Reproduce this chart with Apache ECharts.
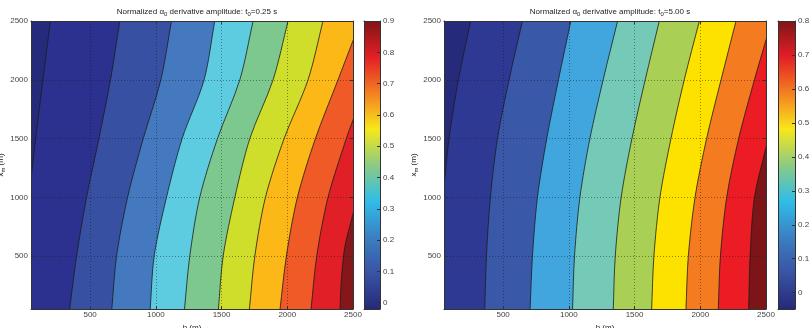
<!DOCTYPE html>
<html>
<head>
<meta charset="utf-8">
<script src="https://cdn.jsdelivr.net/npm/echarts@6/dist/echarts.min.js"></script>
<style>
html, body { margin: 0; padding: 0; background: #fff; }
#main { width: 812px; height: 328px; }
</style>
</head>
<body>
<div id="main"></div>
<script>
/** 坐标范围 (m) */
const hRange = [50, 2500];
const xmRange = [50, 2500];

/** 等值线层级 */
const levelsA = [0, 0.1, 0.2, 0.3, 0.4, 0.5, 0.6, 0.7, 0.8, 0.9];
const levelsB = [0, 0.1, 0.2, 0.3, 0.4, 0.5, 0.6, 0.7, 0.8];

/** 色标范围 */
const cbarA = [-0.02, 0.9];
const cbarB = [-0.048, 0.8];

/** t0=0.25 s : 每条等值线上的点 [h, x_m] */
const linesA = [
  [[197, 2500], [141, 2000], [85, 1500], [50, 1150]],
  [[726, 2500], [655, 2000], [567, 1500], [473, 1000], [397, 500], [344, 50]],
  [[1119, 2500], [1038, 2000], [904, 1500], [785, 1000], [701, 500], [665, 50]],
  [[1448, 2500], [1367, 2000], [1200, 1500], [1081, 1000], [987, 500], [957, 50]],
  [[1740, 2500], [1639, 2000], [1469, 1500], [1334, 1000], [1258, 500], [1218, 50]],
  [[2006, 2500], [1892, 2000], [1715, 1500], [1601, 1000], [1512, 500], [1476, 50]],
  [[2272, 2500], [2158, 2000], [1976, 1500], [1834, 1000], [1753, 500], [1712, 50]],
  [[2500, 2333], [2386, 2000], [2214, 1500], [2077, 1000], [1993, 500], [1945, 50]],
  [[2500, 1658], [2449, 1500], [2310, 1000], [2224, 500], [2181, 50]],
  [[2500, 858], [2437, 574], [2411, 291], [2401, 50]]
];

/** t0=5.00 s */
const linesB = [
  [[253, 2500], [160, 2000], [88, 1500], [50, 1085]],
  [[647, 2500], [545, 2000], [457, 1500], [403, 1000], [373, 500], [360, 50]],
  [[1015, 2500], [921, 2000], [832, 1500], [761, 1000], [723, 500], [705, 50]],
  [[1371, 2500], [1261, 2000], [1160, 1500], [1084, 1000], [1043, 500], [1028, 50]],
  [[1688, 2500], [1581, 2000], [1480, 1500], [1398, 1000], [1353, 500], [1338, 50]],
  [[1993, 2500], [1878, 2000], [1777, 1500], [1693, 1000], [1647, 500], [1630, 50]],
  [[2272, 2500], [2158, 2000], [2048, 1500], [1960, 1000], [1909, 500], [1891, 50]],
  [[2500, 2338], [2412, 2000], [2292, 1500], [2201, 1000], [2153, 500], [2137, 50]],
  [[2500, 1425], [2412, 1000], [2379, 500], [2368, 50]]
];

/** 颜色 (第一个是最低层背景) */
const colorsA = ['#262a7a', '#2c308e', '#3750a2', '#4479c0', '#5dcbe0', '#7dc88f',
  '#cfdd2b', '#fcb816', '#ef5a27', '#e11f26', '#85171a'];
const colorsB = ['#262a7a', '#2e3994', '#3a58a8', '#41a6de', '#74cab6', '#a9d054',
  '#fde200', '#f47b20', '#ec1c24', '#7b1517'];
const jetStops = [
  { offset: 0, color: '#262978' },
  { offset: 0.125, color: '#3953a4' },
  { offset: 0.25, color: '#3b80c2' },
  { offset: 0.375, color: '#30bde9' },
  { offset: 0.5, color: '#8dcb82' },
  { offset: 0.625, color: '#f8e71a' },
  { offset: 0.75, color: '#f47f21' },
  { offset: 0.875, color: '#e31f26' },
  { offset: 1, color: '#7f1517' }
];

const FONT = '"Liberation Sans", Arial, Helvetica, sans-serif';
const subRich = { sub: { fontSize: 6, fontFamily: FONT, color: '#222', padding: [5, 0, 0, 0] } };

let myChart = echarts.init(document.getElementById('main'), null, { renderer: 'canvas' });

// 等值线区域: 把每条线往图外延伸, 再绕到右边闭合, 靠 clip 裁掉
function contourItem(lines, colors) {
  const E = 600, F = 3000;
  return function (params, api) {
    const i = params.dataIndex;
    const pts = lines[i];
    const n = pts.length;
    const dir = (a, b) => {
      const dx = a[0] - b[0], dy = a[1] - b[1];
      const len = Math.sqrt(dx * dx + dy * dy);
      return [dx / len, dy / len];
    };
    const d0 = dir(pts[0], pts[1]);
    const d1 = dir(pts[n - 1], pts[n - 2]);
    const tail = [pts[n - 1][0] + d1[0] * E, pts[n - 1][1] + d1[1] * E];
    const poly = [[pts[0][0] + d0[0] * E, pts[0][1] + d0[1] * E]];
    pts.forEach(p => poly.push(p));
    poly.push(tail);
    // 从左边出去的线, 先沿左边往下走
    if (pts[n - 1][0] <= hRange[0]) poly.push([tail[0], xmRange[0] - F]);
    poly.push([hRange[1] + F, xmRange[0] - F]);
    if (pts[0][1] >= xmRange[1]) poly.push([hRange[1] + F, xmRange[1] + F]);
    return {
      type: 'polygon',
      shape: { points: poly.map(p => api.coord(p)), smooth: 0.3 },
      style: { fill: colors[i + 1], stroke: '#1c1c1c', lineWidth: 0.8 }
    };
  };
}

function cbarItem(range) {
  return function (params, api) {
    const p0 = api.coord([0, range[1]]);
    const p1 = api.coord([1, range[0]]);
    return {
      type: 'rect',
      shape: { x: p0[0], y: p0[1], width: p1[0] - p0[0], height: p1[1] - p0[1] },
      style: { fill: new echarts.graphic.LinearGradient(0, 1, 0, 0, jetStops) }
    };
  };
}

const fmt = v => String(Math.round(v * 100) / 100);
const axisLine = { show: true, onZero: false, lineStyle: { color: '#333', width: 1 } };
const tick = { show: true, inside: true, length: 3, lineStyle: { color: '#333' } };
const label = { fontSize: 8, color: '#444', fontFamily: FONT, formatter: fmt };
const dotted = { show: true, lineStyle: { color: 'rgba(20,20,20,0.45)', type: [1, 2], width: 1 } };

function plotX(g) {
  const base = { type: 'value', gridIndex: g, min: hRange[0], max: hRange[1],
    minInterval: 500, maxInterval: 500, axisLine: axisLine, axisTick: tick, z: 5 };
  return [
    Object.assign({}, base, {
      position: 'bottom',
      axisLabel: Object.assign({ showMinLabel: false, margin: 2 }, label),
      splitLine: dotted,
      name: 'h (m)', nameLocation: 'middle', nameGap: 11,
      nameTextStyle: { fontSize: 8, color: '#222', fontFamily: FONT }
    }),
    Object.assign({}, base, { position: 'top', axisLabel: { show: false }, splitLine: { show: false } })
  ];
}
function plotY(g) {
  const base = { type: 'value', gridIndex: g, min: xmRange[0], max: xmRange[1],
    minInterval: 500, maxInterval: 500, axisLine: axisLine, axisTick: tick, z: 5 };
  return [
    Object.assign({}, base, {
      position: 'left',
      axisLabel: Object.assign({ showMinLabel: false, margin: 3 }, label),
      splitLine: dotted,
      name: 'x{sub|m} (m)', nameLocation: 'middle', nameGap: 21,
      nameTextStyle: { fontSize: 8, color: '#222', fontFamily: FONT, rich: subRich }
    }),
    Object.assign({}, base, { position: 'right', axisLabel: { show: false }, splitLine: { show: false } })
  ];
}
function cbarX(g) {
  const base = { type: 'value', gridIndex: g, min: 0, max: 1, axisLine: axisLine,
    axisTick: { show: false }, axisLabel: { show: false }, splitLine: { show: false }, z: 5 };
  return [Object.assign({ position: 'bottom' }, base), Object.assign({ position: 'top' }, base)];
}
function cbarY(g, range) {
  const base = { type: 'value', gridIndex: g, min: range[0], max: range[1],
    minInterval: 0.1, maxInterval: 0.1, axisLine: axisLine, splitLine: { show: false }, z: 5 };
  return [
    Object.assign({}, base, { position: 'left', axisTick: { show: false }, axisLabel: { show: false } }),
    Object.assign({}, base, { position: 'right', axisTick: tick,
      axisLabel: Object.assign({ showMinLabel: false, margin: 3 }, label) })
  ];
}

function makeTitle(text, cx) {
  return {
    text: text, left: cx, top: 1, textAlign: 'center',
    textStyle: { fontSize: 8, fontWeight: 'normal', color: '#222', fontFamily: FONT, rich: subRich }
  };
}

const gridBase = { outerBoundsMode: 'none', containLabel: false, borderWidth: 0 };
let option = {
  animation: false,
  title: [
    makeTitle('Normalized α{sub|0} derivative amplitude: t{sub|0}=0.25 s', 192),
    makeTitle('Normalized α{sub|0} derivative amplitude: t{sub|0}=5.00 s', 605)
  ],
  grid: [
    Object.assign({ left: 31, top: 21, width: 322, height: 288, show: true, backgroundColor: colorsA[0] }, gridBase),
    Object.assign({ left: 364, top: 21, width: 16, height: 288, show: false }, gridBase),
    Object.assign({ left: 444, top: 21, width: 322, height: 288, show: true, backgroundColor: colorsB[0] }, gridBase),
    Object.assign({ left: 778, top: 21, width: 17, height: 288, show: false }, gridBase)
  ],
  xAxis: [].concat(plotX(0), cbarX(1), plotX(2), cbarX(3)),
  yAxis: [].concat(plotY(0), cbarY(1, cbarA), plotY(2), cbarY(3, cbarB)),
  series: [
    { type: 'custom', name: 't0=0.25', xAxisIndex: 0, yAxisIndex: 0, clip: true, z: 1,
      renderItem: contourItem(linesA, colorsA), data: linesA.map(l => l[0]) },
    { type: 'custom', name: 'cbar0.25', xAxisIndex: 2, yAxisIndex: 2, z: 1,
      renderItem: cbarItem(cbarA), data: [[0, cbarA[0]]] },
    { type: 'custom', name: 't0=5.00', xAxisIndex: 4, yAxisIndex: 4, clip: true, z: 1,
      renderItem: contourItem(linesB, colorsB), data: linesB.map(l => l[0]) },
    { type: 'custom', name: 'cbar5.00', xAxisIndex: 6, yAxisIndex: 6, z: 1,
      renderItem: cbarItem(cbarB), data: [[0, cbarB[0]]] }
  ]
};
myChart.setOption(option);
</script>
</body>
</html>
